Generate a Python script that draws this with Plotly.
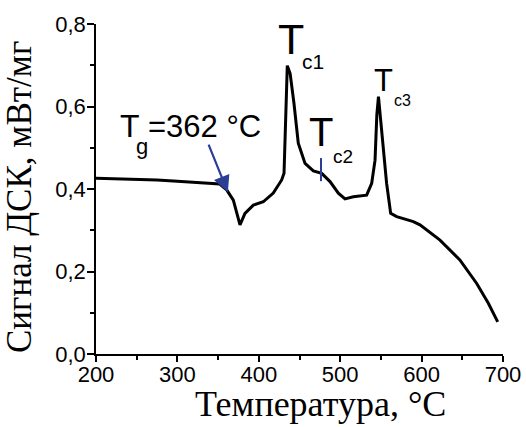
import plotly.graph_objects as go

# DSC curve (temperature, °C -> signal, mW/mg)
temperature = [200, 225, 250, 275, 300, 325, 352, 360.5, 368.7, 376.9, 383, 393.3, 405.5,
               417.8, 428.1, 431, 432.2, 433.5, 435, 438.5, 443.2, 448.5, 456.8, 467,
               477.3, 487.5, 497.7, 505.9, 516.1, 532.5, 538.7, 542.8, 545, 547, 552, 557,
               562, 569.4, 589.8, 598, 622.6, 647, 667.7, 682, 693.5]
signal = [0.426, 0.425, 0.424, 0.422, 0.419, 0.416, 0.412, 0.398, 0.373, 0.313, 0.341, 0.361,
          0.369, 0.390, 0.422, 0.438, 0.535, 0.640, 0.699, 0.680, 0.608, 0.511, 0.462, 0.444,
          0.438, 0.418, 0.390, 0.376, 0.381, 0.385, 0.414, 0.470, 0.580, 0.624, 0.511, 0.414,
          0.341, 0.333, 0.321, 0.313, 0.276, 0.228, 0.171, 0.123, 0.078]

x_ticks = [200, 300, 400, 500, 600, 700]
y_ticks = [0.0, 0.2, 0.4, 0.6, 0.8]

x_title = "Температура, °C"
y_title = "Сигнал ДСК, мВт/мг"

# annotation anchor values (data units)
tg_label = "=362 °C"
tg_tip = (362, 0.392)
tg_tail = (337.6, 0.511)
tc2_mark_x = 476.4
tc2_mark_y = (0.419, 0.475)

BLUE = "#2b3d94"
SANS = "Liberation Sans, Arial, sans-serif"
SERIF = "Liberation Serif, Times New Roman, serif"

fig = go.Figure()
fig.add_trace(go.Scatter(x=temperature, y=signal, mode="lines",
                         line=dict(color="black", width=3), showlegend=False,
                         hoverinfo="skip"))

fig.add_shape(type="line", x0=tc2_mark_x, x1=tc2_mark_x, y0=tc2_mark_y[0], y1=tc2_mark_y[1],
              xref="x", yref="y", line=dict(color=BLUE, width=2))

ann = []
# arrow for Tg
ann.append(dict(x=tg_tip[0], y=tg_tip[1], ax=tg_tail[0], ay=tg_tail[1], xref="x", yref="y",
                axref="x", ayref="y", text="", showarrow=True, arrowhead=2, arrowsize=1.5,
                arrowwidth=2.2, arrowcolor=BLUE))

def label(x, y, text, size, anchor="center"):
    ann.append(dict(x=x, y=y, xref="x", yref="y", text=text, showarrow=False,
                    xanchor=anchor, yanchor="middle", font=dict(family=SANS, size=size, color="black")))

label(241.2, 0.552, "T", 32)
label(257.0, 0.502, "g", 22)
label(261.0, 0.552, tg_label, 31, anchor="left")
label(439.6, 0.764, "T", 43)
label(466.0, 0.708, "c1", 21)
label(476.4, 0.538, "T", 40)
label(503.4, 0.478, "c2", 19)
label(552.6, 0.663, "T", 31)
label(576.5, 0.614, "c3", 16)

# axis titles
ann.append(dict(x=0, y=0.5, xref="paper", yref="paper", text=y_title, textangle=-90,
                showarrow=False, xanchor="center", yanchor="middle", xshift=-77, yshift=-8,
                font=dict(family=SERIF, size=35, color="black")))
ann.append(dict(x=0.5, y=0, xref="paper", yref="paper", text=x_title,
                showarrow=False, xanchor="center", yanchor="middle", xshift=21, yshift=-50,
                font=dict(family=SERIF, size=36, color="black")))

fig.update_layout(
    width=526, height=427,
    margin=dict(l=96, r=23, t=24, b=73),
    paper_bgcolor="white", plot_bgcolor="white",
    separators=", ",
    annotations=ann,
    xaxis=dict(range=[200, 700], tickvals=x_ticks, showline=True, linecolor="black",
               linewidth=1.5, ticks="outside", ticklen=6, tickwidth=1.5, tickcolor="black",
               minor=dict(ticks="outside", ticklen=4, dtick=50, tick0=200, tickcolor="black", tickwidth=1.5),
               showgrid=False, zeroline=False, automargin=False, ticklabelstandoff=-6,
               tickfont=dict(family=SANS, size=22, color="black")),
    yaxis=dict(range=[0, 0.8], tickvals=y_ticks, tickformat=".1f", showline=True,
               linecolor="black", linewidth=1.5, ticks="outside", ticklen=7, tickwidth=1.5,
               tickcolor="black",
               minor=dict(ticks="outside", ticklen=4, dtick=0.1, tick0=0, tickcolor="black", tickwidth=1.5),
               showgrid=False, zeroline=False, automargin=False, ticklabelstandoff=-3,
               tickfont=dict(family=SANS, size=22, color="black")),
)

fig.write_html("out.html")
